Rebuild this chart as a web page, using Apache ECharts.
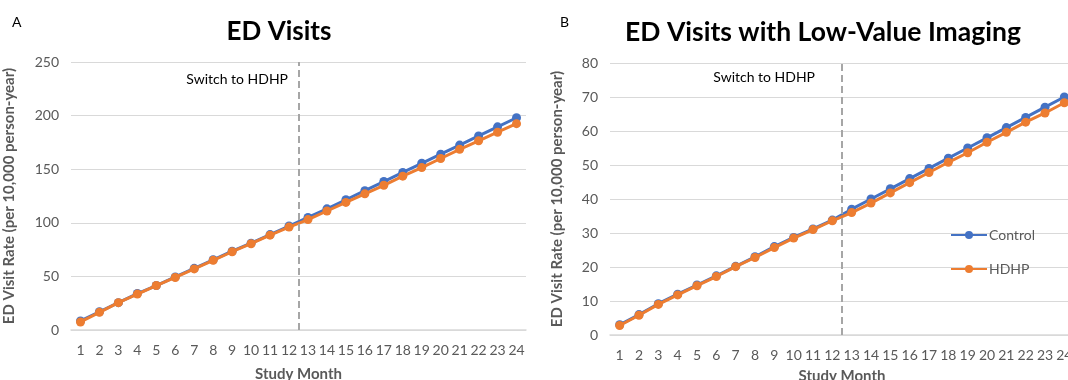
<!DOCTYPE html>
<html><head><meta charset="utf-8">
<script src="https://cdn.jsdelivr.net/npm/echarts@6/dist/echarts.min.js"></script>
<style>html,body{margin:0;padding:0;background:#fff}#c{width:1068px;height:380px}</style>
</head><body><div id="c"></div>
<script>
const months = ['1','2','3','4','5','6','7','8','9','10','11','12','13','14','15','16','17','18','19','20','21','22','23','24'];
const edControl = [8.5,17,25.5,34,41.5,49.5,57.5,65.5,73.5,81,89,97,105,113,121.5,130,138.5,147,155.5,164,172.5,181,189.5,198];
const edHDHP    = [7.5,16.5,25.5,33.5,41.5,49,57,65,73,80.5,88.5,96,103,111,119,127,135,143.5,151.5,160,168.5,176.5,184.5,192.5];
const lvControl = [3,6,9.2,12,14.7,17.4,20.2,23,26,28.7,31.2,33.8,37,40,43,46,49,52,55,58,61,64,67,70];
const lvHDHP    = [2.8,5.8,9,11.8,14.5,17.2,20.1,22.8,25.7,28.5,31,33.6,36,38.8,41.8,44.8,47.8,50.8,53.6,56.7,59.6,62.6,65.3,68.3];
const switchPoint = 12.5;
const titles = ['ED Visits','ED Visits with Low-Value Imaging'];
const panelLabels = ['A','B'];
const yName = 'ED Visit Rate (per 10,000 person-year)';
const xName = 'Study Month';
const switchText = 'Switch to HDHP';

const FONT = 'Lato';
const GREY = '#595959';
const BLUE = '#4472C4', ORANGE = '#ED7D31';

function catAxis(gi, gap){
  return {type:'category', gridIndex:gi, data:months, boundaryGap:true,
    name:xName, nameLocation:'middle', nameGap:gap,
    nameTextStyle:{color:GREY, fontWeight:'bold', fontSize:15, fontFamily:FONT},
    axisLine:{lineStyle:{color:'#D9D9D9', width:1.5}}, axisTick:{show:false},
    axisLabel:{color:GREY, fontSize:14, fontFamily:FONT, margin:13, interval:0}};
}
function hidAxis(gi){
  return {type:'value', gridIndex:gi, min:0.5, max:24.5, show:false};
}
function valAxis(gi, max, interval, gap){
  return {type:'value', gridIndex:gi, min:0, max:max, interval:interval,
    name:yName, nameLocation:'middle', nameGap:gap,
    nameTextStyle:{color:GREY, fontWeight:'bold', fontSize:15, fontFamily:FONT},
    axisLine:{show:false}, axisTick:{show:false},
    axisLabel:{color:GREY, fontSize:14, fontFamily:FONT, margin:12},
    splitLine:{lineStyle:{color:'#D9D9D9', width:1.2}}};
}
function lineSeries(name, data, color, gi){
  return {name:name, type:'line', xAxisIndex:gi, yAxisIndex:gi, data:data,
    symbol:'circle', symbolSize:9, showSymbol:true,
    lineStyle:{color:color, width:3}, itemStyle:{color:color}, z: name==='HDHP'?3:2};
}
function switchLine(gi){
  return {type:'line', xAxisIndex:gi+2, yAxisIndex:gi, data:[], silent:true,
    markLine:{symbol:'none', silent:true, label:{show:false},
      lineStyle:{color:'#A6A6A6', width:2, type:[7,4]},
      data:[{xAxis:switchPoint}]}};
}

const chart = echarts.init(document.getElementById('c'), null, {renderer:'canvas'});
chart.setOption({
  animation:false,
  backgroundColor:'#fff',
  textStyle:{fontFamily:FONT},
  title:[
    {text:titles[0], left:274, top:14, textAlign:'center', textStyle:{fontSize:26, fontWeight:'bold', color:'#000', fontFamily:FONT}},
    {text:titles[1], left:818, top:14, textAlign:'center', textStyle:{fontSize:26.5, fontWeight:'bold', color:'#000', fontFamily:FONT}},
    {text:panelLabels[0], left:7, top:10, textStyle:{fontSize:14, fontWeight:'normal', color:'#000', fontFamily:FONT}},
    {text:panelLabels[1], left:555, top:10, textStyle:{fontSize:14, fontWeight:'normal', color:'#000', fontFamily:FONT}}
  ],
  grid:[
    {left:71, right:542, top:62, bottom:50, outerBoundsMode:'none', containLabel:false},
    {left:610, right:-6, top:63, bottom:45, outerBoundsMode:'none', containLabel:false}
  ],
  xAxis:[catAxis(0,37), catAxis(1,34), hidAxis(0), hidAxis(1)],
  yAxis:[valAxis(0,250,50,54), valAxis(1,80,10,45)],
  legend:{data:['Control','HDHP'], orient:'vertical', left:945, top:223, itemGap:20, itemWidth:36, itemHeight:10,
    textStyle:{color:GREY, fontSize:14, fontFamily:FONT, padding:[0,0,0,-3]}},
  graphic:[
    {type:'text', right:1068-288, top:72, style:{text:switchText, fill:'#000', font:'14px '+FONT, textAlign:'right'}},
    {type:'text', right:1068-815, top:70, style:{text:switchText, fill:'#000', font:'14px '+FONT, textAlign:'right'}}
  ],
  series:[
    switchLine(0), switchLine(1),
    lineSeries('Control', edControl, BLUE, 0),
    lineSeries('HDHP', edHDHP, ORANGE, 0),
    lineSeries('Control', lvControl, BLUE, 1),
    lineSeries('HDHP', lvHDHP, ORANGE, 1)
  ]
});
</script></body></html>
